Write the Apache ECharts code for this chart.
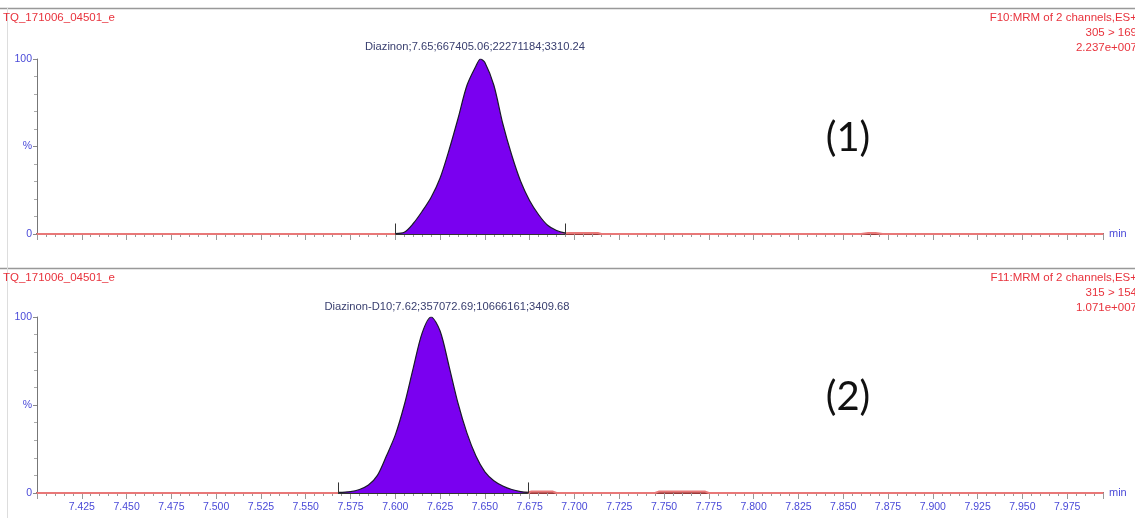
<!DOCTYPE html>
<html>
<head>
<meta charset="utf-8">
<script src="https://cdn.jsdelivr.net/npm/echarts@6/dist/echarts.min.js"></script>
<style>
html,body{margin:0;padding:0;background:#fff;}
#c{width:1135px;height:518px;}
</style>
</head>
<body>
<div id="c"></div>
<script>
// ---- data ----
var xTicks = ['7.425','7.450','7.475','7.500','7.525','7.550','7.575','7.600','7.625','7.650','7.675','7.700','7.725','7.750','7.775','7.800','7.825','7.850','7.875','7.900','7.925','7.950','7.975'];
var yTickLabels = ['0', '%', '100'];

// Panel 1: Diazinon peak (retention time, % intensity)
var peak1Time = [7.600, 7.605, 7.610, 7.615, 7.620, 7.625, 7.630, 7.635, 7.640, 7.645, 7.6475, 7.650, 7.655, 7.660, 7.665, 7.670, 7.675, 7.680, 7.685, 7.690, 7.695];
var peak1Pct  = [0.3,   1,     6,     13,    21,    32,    48,    66,    85,    96,    100,    98,    85,    63,    45,    30,    19,    11,    5,     2,     0.5];
var peak1Bounds = [7.600, 7.695];
var trace1Time = [7.400, 7.600, 7.695, 7.697, 7.713, 7.715, 7.860, 7.864, 7.868, 7.872, 7.995];
var trace1Pct  = [0,     0,     0.5,   0.6,   0.6,   0,     0,     0.6,   0.6,   0,     0];

// Panel 2: Diazinon-D10 peak
var peak2Time = [7.568, 7.575, 7.580, 7.585, 7.590, 7.595, 7.600, 7.605, 7.610, 7.615, 7.620, 7.625, 7.630, 7.635, 7.640, 7.645, 7.650, 7.655, 7.660, 7.665, 7.670, 7.674];
var peak2Pct  = [0.3,   0.8,   2,     4.5,   10,    21,    33,    50,    71,    91,    100,   92,    72,    51,    34,    21,    12,    7,     4,     2,     0.8,   0.3];
var peak2Bounds = [7.568, 7.674];
var trace2Time = [7.400, 7.568, 7.674, 7.676, 7.688, 7.690, 7.745, 7.747, 7.773, 7.775, 7.995];
var trace2Pct  = [0,     0,     0.3,   0.8,   0.8,   0,     0,     0.8,   0.8,   0,     0];

var panel1Texts = {
  file: 'TQ_171006_04501_e',
  fn: 'F10:MRM of 2 channels,ES+',
  trans: '305 > 169',
  scale: '2.237e+007',
  peak: 'Diazinon;7.65;667405.06;22271184;3310.24',
  tag: '(1)'
};
var panel2Texts = {
  file: 'TQ_171006_04501_e',
  fn: 'F11:MRM of 2 channels,ES+',
  trans: '315 > 154',
  scale: '1.071e+007',
  peak: 'Diazinon-D10;7.62;357072.69;10666161;3409.68',
  tag: '(2)'
};

function zip(a, b) { return a.map(function (v, i) { return [v, b[i]]; }); }

var BLUE = '#4a4ad8';
var RED = '#e8323c';
var FONT = '"Liberation Sans Narrow","Liberation Sans",Arial,sans-serif';

function xAxisCfg(gridIndex, showLabels) {
  return {
    type: 'value', gridIndex: gridIndex, min: 7.400, max: 7.995, interval: 0.025,
    name: 'min', nameLocation: 'end', nameGap: 6,
    nameTextStyle: { color: BLUE, fontSize: 11, fontFamily: FONT, verticalAlign: 'middle' },
    axisLine: { show: true, lineStyle: { color: '#9a3a3a', width: 2 } },
    axisTick: { show: true, length: 6, lineStyle: { color: '#999' } },
    minorTick: { show: true, splitNumber: 5, length: 3, lineStyle: { color: '#999' } },
    splitLine: { show: false },
    axisLabel: {
      show: showLabels, showMinLabel: false, showMaxLabel: false, margin: 9,
      color: BLUE, fontSize: 10.5, fontFamily: FONT,
      formatter: function (v) {
        var s = v.toFixed(3);
        return xTicks.indexOf(s) >= 0 ? s : '';
      }
    }
  };
}
function yAxisCfg(gridIndex) {
  return {
    type: 'value', gridIndex: gridIndex, min: 0, max: 100, interval: 50,
    axisLine: { show: true, lineStyle: { color: '#777' } },
    axisTick: { show: true, length: 4, lineStyle: { color: '#888' } },
    minorTick: { show: true, splitNumber: 5, length: 3, lineStyle: { color: '#aaa' } },
    splitLine: { show: false },
    axisLabel: {
      color: BLUE, fontSize: 10.5, fontFamily: FONT, margin: 5,
      formatter: function (v) { return yTickLabels[Math.round(v / 50)]; }
    }
  };
}
function traceSeries(idx, t, p) {
  return {
    type: 'line', xAxisIndex: idx, yAxisIndex: idx, data: zip(t, p),
    symbol: 'none', silent: true, z: 3,
    lineStyle: { color: '#e87878', width: 2 }
  };
}
function peakSeries(idx, t, p, bounds) {
  return {
    type: 'line', xAxisIndex: idx, yAxisIndex: idx, data: zip(t, p),
    symbol: 'none', smooth: 0.3, silent: true, z: 4,
    lineStyle: { color: '#1a1a2a', width: 1.2 },
    areaStyle: { color: '#7a00f0', opacity: 1 },
    markLine: {
      silent: true, symbol: 'none', label: { show: false },
      lineStyle: { color: '#333', width: 1, type: 'solid' },
      data: [
        [{ coord: [bounds[0], 0] }, { coord: [bounds[1], 0] }],
        [{ coord: [bounds[0], 0] }, { coord: [bounds[0], 6] }],
        [{ coord: [bounds[1], 0] }, { coord: [bounds[1], 6] }]
      ]
    }
  };
}
function texts(T, top, peakX, peakY) {
  var s = { fontFamily: FONT, fontSize: 11.5 };
  return [
    { type: 'text', left: 3, top: top + 3, style: Object.assign({ text: T.file, fill: RED }, s) },
    { type: 'text', x: 1137, y: top + 3, style: Object.assign({ text: T.fn, fill: RED, align: 'right' }, s) },
    { type: 'text', x: 1137, y: top + 18, style: Object.assign({ text: T.trans, fill: RED, align: 'right' }, s) },
    { type: 'text', x: 1137, y: top + 33, style: Object.assign({ text: T.scale, fill: RED, align: 'right' }, s) },
    { type: 'text', x: peakX, y: peakY, style: { text: T.peak, fill: '#3a4070', align: 'center', verticalAlign: 'middle', fontFamily: FONT, fontSize: 11.2 } }
  ];
}

var chart = echarts.init(document.getElementById('c'), null, { renderer: 'canvas' });
var graphics = [
  { type: 'line', shape: { x1: 0, y1: 8.5, x2: 1135, y2: 8.5 }, style: { stroke: '#999', lineWidth: 1.5 } },
  { type: 'line', shape: { x1: 0, y1: 268.5, x2: 1135, y2: 268.5 }, style: { stroke: '#999', lineWidth: 1.5 } },
  { type: 'line', shape: { x1: 7.5, y1: 8, x2: 7.5, y2: 518 }, style: { stroke: '#ddd', lineWidth: 1 } },
  { type: 'text', x: 848, y: 138, style: { text: panel1Texts.tag, fill: '#111', fontSize: 40, fontFamily: 'Lato, "Open Sans", sans-serif', align: 'center', verticalAlign: 'middle' } },
  { type: 'text', x: 848, y: 397, style: { text: panel2Texts.tag, fill: '#111', fontSize: 40, fontFamily: 'Lato, "Open Sans", sans-serif', align: 'center', verticalAlign: 'middle' } }
].concat(texts(panel1Texts, 9, 475, 47)).concat(texts(panel2Texts, 269, 447, 307));

chart.setOption({
  backgroundColor: '#fff',
  animation: false,
  grid: [
    { left: 37, right: 32, top: 59, height: 175 },
    { left: 37, right: 32, top: 317, height: 176 }
  ],
  xAxis: [xAxisCfg(0, false), xAxisCfg(1, true)],
  yAxis: [yAxisCfg(0), yAxisCfg(1)],
  series: [
    traceSeries(0, trace1Time, trace1Pct),
    peakSeries(0, peak1Time, peak1Pct, peak1Bounds),
    traceSeries(1, trace2Time, trace2Pct),
    peakSeries(1, peak2Time, peak2Pct, peak2Bounds)
  ],
  graphic: graphics
});
</script>
</body>
</html>
